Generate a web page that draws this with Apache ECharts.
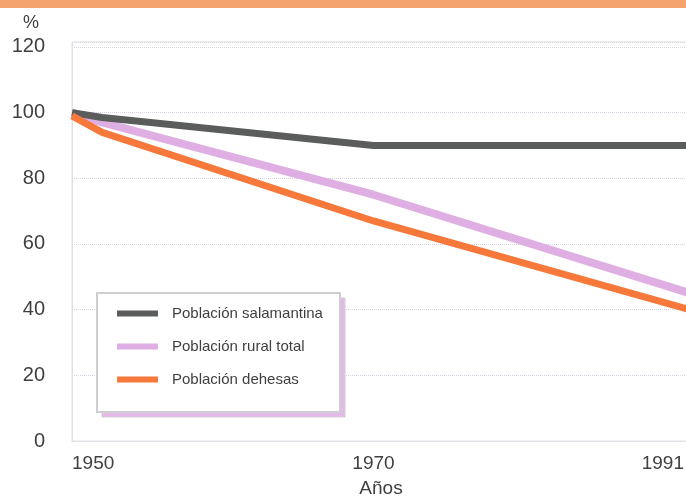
<!DOCTYPE html>
<html>
<head>
<meta charset="utf-8">
<script src="https://cdn.jsdelivr.net/npm/echarts@6/dist/echarts.min.js"></script>
<style>html,body{margin:0;padding:0;background:#fff}#c{width:686px;height:499px}</style>
</head>
<body>
<div id="c"></div>
<script>
const years = [1950, 1952, 1970, 1991];
const salamantina = [100, 98.5, 90, 90];
const ruralTotal = [100, 97, 75, 45];
const dehesas = [99, 94, 67, 40];
const xTickLabels = [1950, 1970, 1991];
const seriesNames = ['Población salamantina', 'Población rural total', 'Población dehesas'];
const colors = ['#5b5d5c', '#dfaee3', '#f6793b'];

const font = '"Liberation Sans", Arial, sans-serif';
const pair = (xs, ys) => xs.map((x, i) => [x, ys[i]]);
const chart = echarts.init(document.getElementById('c'));
chart.setOption({
  animation: false,
  backgroundColor: '#ffffff',
  color: colors,
  graphic: [
    { type: 'rect', shape: { x: 0, y: 0, width: 686, height: 8 }, style: { fill: '#f4a36c' } },
    { type: 'text', left: 23, top: 14, style: { text: '%', font: '18px ' + font, fill: '#3f3f3f' } },
    { type: 'rect', z: 5, shape: { x: 102, y: 298, width: 243, height: 119 }, style: { fill: '#e4b8e7', stroke: '#cfcfd4', lineWidth: 1 } },
    { type: 'rect', z: 6, shape: { x: 97, y: 293, width: 243, height: 119 }, style: { fill: '#ffffff', stroke: '#cdcdd2', lineWidth: 2 } }
  ],
  grid: { left: 72, right: -4, top: 42, bottom: 58, show: true, borderColor: '#e2e0e6', borderWidth: 1, containLabel: false, outerBoundsMode: 'none' },
  legend: {
    orient: 'vertical', left: 97, top: 293,
    padding: [13, 20, 20, 20], itemGap: 18,
    itemWidth: 41, itemHeight: 6, icon: 'rect', z: 10,
    textStyle: { fontFamily: font, fontSize: 15, color: '#3f3f3f', padding: [0, 0, 0, 9] },
    data: seriesNames
  },
  xAxis: {
    type: 'value', min: 1950, max: 1991,
    name: 'Años', nameLocation: 'middle', nameGap: 38,
    nameTextStyle: { fontFamily: font, fontSize: 19, color: '#3f3f3f' },
    axisLine: { show: true, lineStyle: { color: '#e2e0e6' } },
    axisTick: { show: false },
    splitLine: { show: false },
    axisLabel: {
      customValues: xTickLabels,
      margin: 13,
      fontFamily: font, fontSize: 19, color: '#3f3f3f',
      alignMinLabel: 'left', alignMaxLabel: 'right',
      formatter: v => v === 1991 ? '{r|1991}' : String(v),
      rich: { r: { fontFamily: font, fontSize: 19, color: '#3f3f3f', padding: [0, 6, 0, 0] } }
    }
  },
  yAxis: {
    type: 'value', min: 0, max: 121.5, interval: 20,
    axisLine: { show: true, lineStyle: { color: '#e2e0e6' } },
    axisTick: { show: false },
    splitLine: { lineStyle: { color: '#d9d3e3', type: 'dotted', width: 1 } },
    axisLabel: {
      margin: 27, fontFamily: font, fontSize: 20, color: '#3f3f3f',
      formatter: v => (v % 20 === 0 ? String(v) : '')
    }
  },
  series: [
    { name: seriesNames[0], type: 'line', data: pair(years, salamantina), showSymbol: false, lineStyle: { width: 7, color: colors[0] }, z: 3 },
    { name: seriesNames[1], type: 'line', data: pair(years, ruralTotal), showSymbol: false, lineStyle: { width: 8, color: colors[1] }, z: 2 },
    { name: seriesNames[2], type: 'line', data: pair(years, dehesas), showSymbol: false, lineStyle: { width: 7, color: colors[2] }, z: 4 }
  ]
});
</script>
</body>
</html>
